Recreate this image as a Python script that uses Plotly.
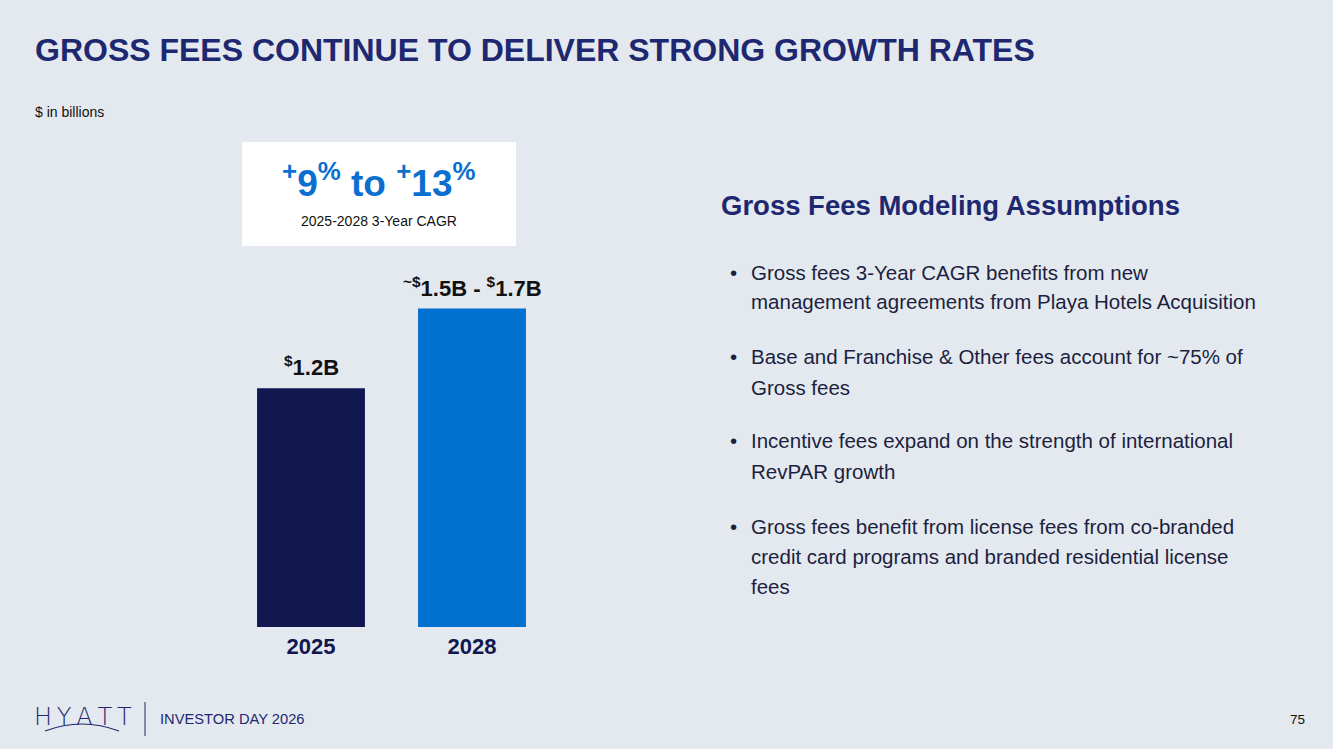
import plotly.graph_objects as go

# data
years = ["2025", "2028"]
gross_fees = [1.2, 1.6]   # 2028 shown as the midpoint of the ~$1.5B - $1.7B range
bar_labels = ["<sup>$</sup>1.2B", "<sup>~$</sup>1.5B - <sup>$</sup>1.7B"]
bar_colors = ["#11174F", "#0070CF"]

title_text = "GROSS FEES CONTINUE TO DELIVER STRONG GROWTH RATES"
cagr_text = "<sup>+</sup>9<sup>%</sup> to <sup>+</sup>13<sup>%</sup>"
cagr_caption = "2025-2028 3-Year CAGR"
side_heading = "Gross Fees Modeling Assumptions"
bullets = [
    ["Gross fees 3-Year CAGR benefits from new",
     "management agreements from Playa Hotels Acquisition"],
    ["Base and Franchise & Other fees account for ~75% of",
     "Gross fees"],
    ["Incentive fees expand on the strength of international",
     "RevPAR growth"],
    ["Gross fees benefit from license fees from co-branded",
     "credit card programs and branded residential license",
     "fees"],
]
bullet_rows = [272, 357, 441, 526]   # first-line centre of each bullet, px from top
LINE_GAP = 30

NAVY = "#1E2870"
TEXT = "#1C1F40"
BG = "#E4E9EF"
FONT = "Liberation Sans, Arial, sans-serif"
W, H = 1333, 749


def px(x):
    return x / W


def py(y):
    return 1 - y / H


def note(x, y, text, size, color, xanchor="left", yanchor="middle", weight="normal", family=FONT):
    fig.add_annotation(x=px(x), y=py(y), xref="paper", yref="paper", text=text,
                       showarrow=False, xanchor=xanchor, yanchor=yanchor, align="left",
                       font=dict(family=family, size=size, color=color, weight=weight))


fig = go.Figure()
fig.add_trace(go.Bar(
    x=years, y=gross_fees, marker=dict(color=bar_colors, line=dict(width=0)),
    hoverinfo="skip", showlegend=False,
))

for i, (val, lab) in enumerate(zip(gross_fees, bar_labels)):
    fig.add_annotation(x=i, y=val, xref="x", yref="y", text=lab, showarrow=False,
                       xanchor="center", yanchor="bottom", yshift=6,
                       font=dict(family=FONT, size=22, color="#111111", weight="bold"))

fig.update_layout(
    width=W, height=H, margin=dict(l=0, r=0, t=0, b=0, autoexpand=False),
    paper_bgcolor=BG, plot_bgcolor=BG, bargap=0.33,
    xaxis=dict(type="category", domain=[px(230.5), px(552.5)], range=[-0.5, 1.5],
               showgrid=False, zeroline=False, showline=False, automargin=False,
               ticks="", ticklabelstandoff=4,
               tickfont=dict(family=FONT, size=22, color="#11174F", weight="bold")),
    yaxis=dict(domain=[py(627), py(229)], range=[0, 2.0], visible=False, automargin=False),
    font=dict(family=FONT),
)

# white CAGR box
fig.add_shape(type="rect", xref="paper", yref="paper",
              x0=px(242), x1=px(516), y0=py(246), y1=py(142),
              fillcolor="white", line=dict(width=0), layer="below")
note(379, 180, cagr_text, 37, "#0A6FCF", xanchor="center", weight="bold")
note(379, 221, cagr_caption, 14, "#111111", xanchor="center")

# title and units
note(33, 50, title_text, 32, NAVY, weight="bold")
note(33, 112, "$ in billions", 14, "#111111")

# right panel
note(719, 206, side_heading, 27.5, NAVY, weight="bold")
for row, lines in zip(bullet_rows, bullets):
    note(728, row, "•", 20.5, TEXT)
    for k, line in enumerate(lines):
        note(749, row + k * LINE_GAP, line, 20.5, TEXT)

# footer: logo, divider, event name, page number
note(32, 717, "H\u2009Y\u2009A\u2009T\u2009T", 24, NAVY, weight=300, family="DejaVu Sans")
fig.add_shape(type="path", xref="paper", yref="paper",
              path=f"M {px(45)},{py(731)} Q {px(82)},{py(717)} {px(119)},{py(731)}",
              line=dict(color=NAVY, width=1.2))
fig.add_shape(type="line", xref="paper", yref="paper", x0=px(145), x1=px(145),
              y0=py(702), y1=py(736), line=dict(color=NAVY, width=1))
note(158, 719, "INVESTOR DAY 2026", 14.7, NAVY)
note(1307, 719, "75", 13.5, "#111111", xanchor="right")

fig.write_html("out.html", config={"displayModeBar": False},
               post_script="document.body.style.margin='0';")
